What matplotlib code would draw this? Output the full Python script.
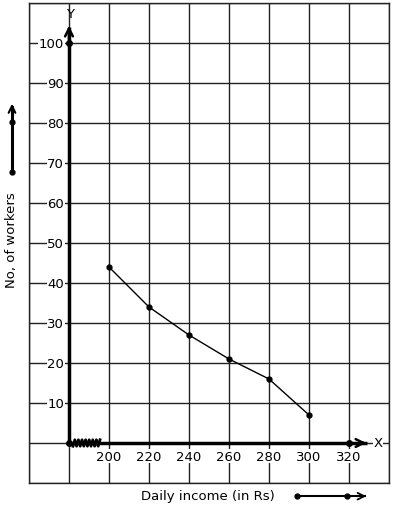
import numpy as np
import matplotlib.pyplot as plt

# data
income = [200, 220, 240, 260, 280, 300]
workers = [44, 34, 27, 21, 16, 7]
x_ticks = [200, 220, 240, 260, 280, 300, 320]
y_ticks = [10, 20, 30, 40, 50, 60, 70, 80, 90, 100]

fig = plt.figure(figsize=(3.94, 5.10), dpi=100)
ax = fig.add_axes([29 / 394, 26 / 510, 360 / 394, 480 / 510])
ax.set_xlim(160, 340)
ax.set_ylim(-10, 110)

# square grid
for gx in np.arange(160, 341, 20):
    ax.axvline(gx, color="#222222", lw=1.0, zorder=1)
for gy in np.arange(-10, 111, 10):
    ax.axhline(gy, color="#222222", lw=1.0, zorder=1)
ax.set_xticks([])
ax.set_yticks([])
for s in ax.spines.values():
    s.set_color("#222222")
    s.set_linewidth(1.0)

# axes with arrows
ax.plot([180, 180], [0, 104], color="black", lw=2.5, zorder=3, solid_capstyle="butt")
ax.annotate("", xy=(180, 105), xytext=(180, 100),
            arrowprops=dict(arrowstyle="->", lw=1.8, color="black", mutation_scale=14), zorder=4)
ax.plot([180, 329], [0, 0], color="black", lw=2.5, zorder=3, solid_capstyle="butt")
ax.annotate("", xy=(330, 0), xytext=(325, 0),
            arrowprops=dict(arrowstyle="->", lw=1.8, color="black", mutation_scale=14), zorder=4)
ax.plot([180, 180, 320], [0, 100, 0], "o", color="black", ms=4, zorder=5, ls="none")
ax.text(180.5, 107.5, "Y", ha="center", va="center", fontsize=9.5, zorder=6)
ax.text(334.5, 0.2, "X", ha="center", va="center", fontsize=9.5,
        bbox=dict(facecolor="white", edgecolor="none", pad=0.3), zorder=6)

# kink on the x-axis
zx = np.linspace(182, 195.5, 16)
zy = np.where(np.arange(16) % 2 == 0, -0.8, 0.8)
ax.plot(zx, zy, color="black", lw=2, zorder=4)

# tick labels
white = dict(facecolor="white", edgecolor="none", pad=0.5)
for t in x_ticks:
    ax.text(t, -3.3, str(t), ha="center", va="center", fontsize=9.5, bbox=white, zorder=2)
for t in y_ticks:
    ax.text(177.6, t, str(t), ha="right", va="center", fontsize=9.5, bbox=white, zorder=2)

# data line
ax.plot(income, workers, color="black", lw=1.0, marker="o", ms=3.5, zorder=5)

# axis titles with arrows outside the grid
ax.text(151.5, 51, "No, of workers", rotation=90, ha="center", va="center",
        fontsize=9.5, clip_on=False)
ax.plot([151.5, 151.5], [67.75, 84], color="black", lw=2.2, clip_on=False)
ax.annotate("", xy=(151.5, 85.5), xytext=(151.5, 82),
            arrowprops=dict(arrowstyle="->", lw=1.5, color="black", mutation_scale=12),
            annotation_clip=False)
ax.plot([151.5, 151.5], [67.75, 80.25], "o", color="black", ms=3.5, clip_on=False)

ax.text(249.5, -13.2, "Daily income (in Rs)", ha="center", va="center",
        fontsize=9.5, clip_on=False)
ax.plot([294, 328], [-13.3, -13.3], color="black", lw=1.5, clip_on=False)
ax.annotate("", xy=(330, -13.3), xytext=(325, -13.3),
            arrowprops=dict(arrowstyle="->", lw=1.3, color="black", mutation_scale=12),
            annotation_clip=False)
ax.plot([294, 319], [-13.3, -13.3], "o", color="black", ms=3.5, clip_on=False)

fig.savefig("out.png", dpi=100)
